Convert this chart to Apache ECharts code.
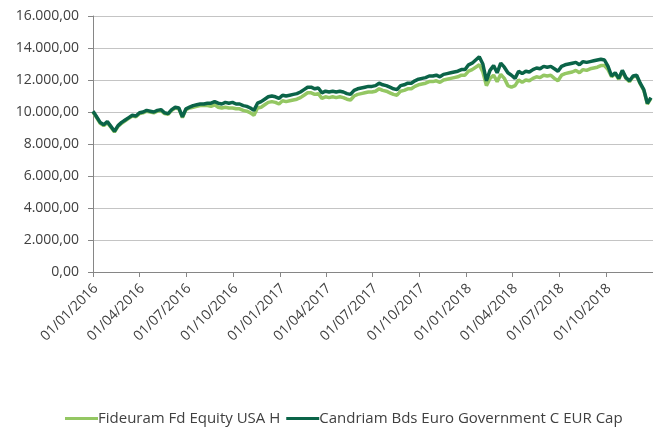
<!DOCTYPE html>
<html>
<head>
<meta charset="utf-8">
<script src="https://cdn.jsdelivr.net/npm/echarts@6/dist/echarts.min.js"></script>
<style>
    html, body { margin: 0; padding: 0; background: #fff; }
    #chart { width: 653px; height: 428px; }
</style>
</head>
<body>
<div id="chart"></div>
<script>
/**
 * Fideuram vs Candriam, weekly values
 * first point 01/01/2016, one value per week
 */
var startDate = '2016-01-01';
var stepDays = 7;

var seriesNames = ['Fideuram Fd Equity USA H', 'Candriam Bds Euro Government C EUR Cap'];

var fideuram = [
    10000, 9650, 9300, 9150, 9350, 9050, 8750, 9100, 9300, 9450,
    9600, 9750, 9700, 9900, 9950, 10050, 10000, 9950, 10050, 10100,
    9900, 9850, 10100, 10250, 10200, 9650, 10150, 10250, 10300, 10350,
    10400, 10400, 10400, 10350, 10450, 10300, 10250, 10300, 10250, 10250,
    10200, 10200, 10100, 10050, 9950, 9800, 10250, 10300, 10450, 10600,
    10650, 10600, 10500, 10700, 10650, 10700, 10750, 10800, 10900, 11050,
    11200, 11200, 11100, 11150, 10850, 10950, 10900, 10950, 10900, 10950,
    10900, 10800, 10750, 11000, 11100, 11150, 11200, 11250, 11250, 11300,
    11450, 11350, 11300, 11200, 11100, 11050, 11300, 11350, 11450, 11450,
    11600, 11700, 11750, 11800, 11900, 11900, 11950, 11850, 12000, 12050,
    12100, 12150, 12200, 12300, 12300, 12550, 12650, 12800, 12950, 12500,
    11650, 12100, 12300, 11900, 12350, 12100, 11650, 11550, 11650, 12000,
    11850, 12000, 11950, 12100, 12200, 12150, 12300, 12250, 12300, 12100,
    11950, 12300, 12400, 12450, 12500, 12600, 12450, 12650, 12600, 12700,
    12750, 12800, 12900, 12900, 12650, 12200, 12400, 12050, 12550, 12100,
    11900, 12200, 12250, 11750, 11350, 10500, 10850
];

var candriam = [
    10050, 9700, 9350, 9200, 9400, 9100, 8800, 9150, 9350, 9500,
    9650, 9800, 9750, 9950, 10000, 10100, 10050, 10000, 10100, 10150,
    9950, 9900, 10150, 10300, 10250, 9700, 10200, 10300, 10400, 10450,
    10500, 10500, 10550, 10550, 10650, 10550, 10500, 10600, 10550, 10600,
    10500, 10500, 10400, 10350, 10250, 10100, 10550, 10650, 10800, 10950,
    11000, 10950, 10850, 11050, 11000, 11050, 11100, 11150, 11250, 11400,
    11550, 11550, 11450, 11500, 11200, 11300, 11250, 11300, 11250, 11300,
    11250, 11150, 11100, 11350, 11450, 11500, 11550, 11600, 11600, 11650,
    11800, 11700, 11650, 11550, 11450, 11400, 11650, 11700, 11800, 11800,
    11950, 12050, 12100, 12150, 12250, 12250, 12300, 12200, 12350, 12400,
    12450, 12500, 12550, 12650, 12650, 12950, 13050, 13250, 13450, 13000,
    11950, 12600, 12900, 12450, 13050, 12800, 12450, 12300, 12100, 12550,
    12400, 12550, 12500, 12650, 12750, 12700, 12850, 12800, 12850, 12700,
    12550, 12850, 12950, 13000, 13050, 13100, 12950, 13150, 13100, 13150,
    13200, 13250, 13300, 13250, 12850, 12250, 12450, 12100, 12600, 12150,
    11950, 12250, 12300, 11800, 11400, 10550, 10900
];

// x-axis ticks, one each quarter
var tickDates = [
    '2016-01-01', '2016-04-01', '2016-07-01', '2016-10-01',
    '2017-01-01', '2017-04-01', '2017-07-01', '2017-10-01',
    '2018-01-01', '2018-04-01', '2018-07-01', '2018-10-01'
];
var axisEnd = '2019-01-01';

var yMax = 16000;
var yStep = 2000;

function toTime(s) {
    var p = s.split('-');
    return Date.UTC(+p[0], +p[1] - 1, +p[2]);
}

function pad(n) { return n < 10 ? '0' + n : '' + n; }

function fmtDate(t) {
    var d = new Date(t);
    return pad(d.getUTCDate()) + '/' + pad(d.getUTCMonth() + 1) + '/' + d.getUTCFullYear();
}

// 16000 -> "16.000,00"
function fmtNum(v) {
    var s = String(Math.round(v));
    s = s.replace(/\B(?=(\d{3})+(?!\d))/g, '.');
    return s + ',00';
}

function toPairs(values) {
    var t0 = toTime(startDate);
    return values.map(function (v, i) {
        return [t0 + i * stepDays * 86400000, v];
    });
}

var ticks = tickDates.map(toTime);
var font = '"Open Sans", sans-serif';

var myChart = echarts.init(document.getElementById('chart'));
myChart.setOption({
    animation: false,
    backgroundColor: '#fff',
    textStyle: { fontFamily: font },
    grid: { left: 93, top: 16, width: 561, height: 256, containLabel: false },
    legend: {
        top: 406,
        left: 60,
        itemWidth: 33,
        itemHeight: 3,
        itemGap: 6,
        icon: 'rect',
        textStyle: { fontFamily: font, fontSize: 15, color: '#404040', padding: [0, 0, 0, -5] },
        data: seriesNames
    },
    xAxis: {
        type: 'value',
        min: toTime(startDate),
        max: toTime(axisEnd),
        axisLine: { lineStyle: { color: '#868686', width: 1 } },
        axisTick: { show: true, length: 5, lineStyle: { color: '#868686' }, customValues: ticks },
        axisLabel: {
            customValues: ticks,
            rotate: 45,
            margin: 17,
            padding: [0, -4, 0, 0],
            fontFamily: font,
            fontSize: 14,
            color: '#404040',
            formatter: function (v) { return fmtDate(v); }
        },
        splitLine: { show: false }
    },
    yAxis: {
        type: 'value',
        min: 0,
        max: yMax,
        interval: yStep,
        axisLine: { show: true, lineStyle: { color: '#868686' } },
        axisTick: { show: true, length: 5, lineStyle: { color: '#868686' } },
        axisLabel: {
            margin: 14,
            fontFamily: font,
            fontSize: 14,
            color: '#404040',
            formatter: fmtNum
        },
        splitLine: { lineStyle: { color: '#C4C4C4', width: 1 } }
    },
    series: [
        {
            name: seriesNames[0],
            type: 'line',
            showSymbol: false,
            symbol: 'none',
            data: toPairs(fideuram),
            lineStyle: { color: '#94C763', width: 3.5 },
            itemStyle: { color: '#94C763' }
        },
        {
            name: seriesNames[1],
            type: 'line',
            showSymbol: false,
            symbol: 'none',
            data: toPairs(candriam),
            lineStyle: { color: '#0B6448', width: 3.5 },
            itemStyle: { color: '#0B6448' }
        }
    ]
});
</script>
</body>
</html>
